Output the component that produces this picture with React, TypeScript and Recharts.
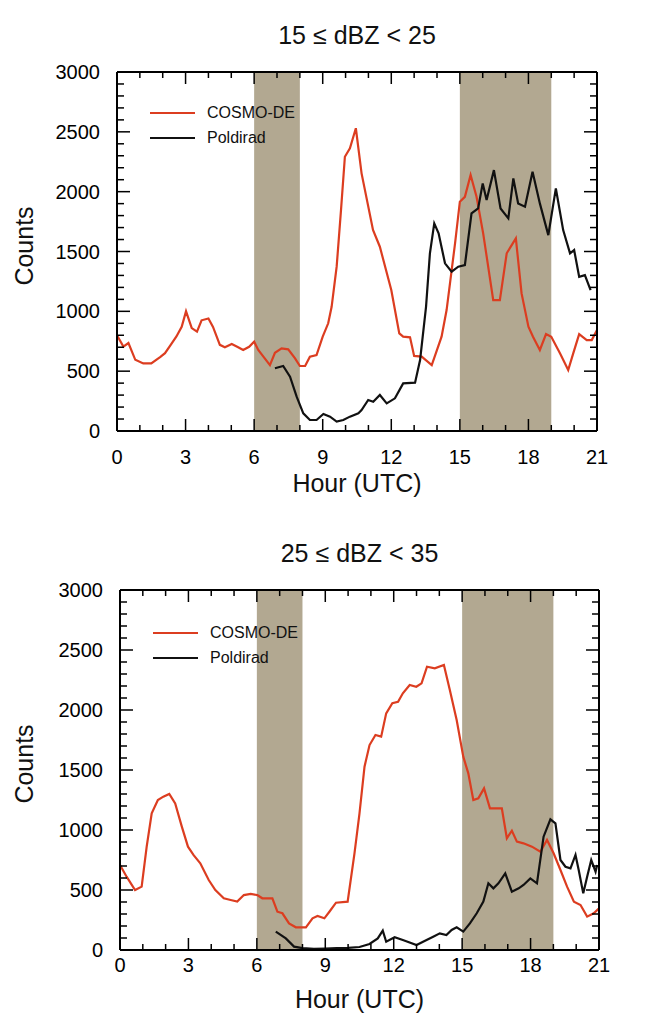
import React from "react";
import {
  LineChart,
  Line,
  XAxis,
  YAxis,
  ReferenceArea,
} from "recharts";

// hour (UTC) / counts
const cosmoLow = [
  { h: 0, v: 800 }, { h: 0.28, v: 705 }, { h: 0.5, v: 735 }, { h: 0.8, v: 595 },
  { h: 1.15, v: 565 }, { h: 1.5, v: 565 }, { h: 1.9, v: 620 }, { h: 2.1, v: 650 },
  { h: 2.35, v: 720 }, { h: 2.6, v: 790 }, { h: 2.83, v: 870 }, { h: 3.02, v: 1000 },
  { h: 3.27, v: 860 }, { h: 3.5, v: 830 }, { h: 3.7, v: 925 }, { h: 4.0, v: 940 },
  { h: 4.2, v: 870 }, { h: 4.5, v: 720 }, { h: 4.72, v: 700 }, { h: 5.02, v: 727 },
  { h: 5.3, v: 700 }, { h: 5.52, v: 677 }, { h: 5.78, v: 704 }, { h: 6.0, v: 746 },
  { h: 6.18, v: 677 }, { h: 6.43, v: 615 }, { h: 6.69, v: 551 }, { h: 6.91, v: 654 },
  { h: 7.2, v: 691 }, { h: 7.49, v: 682 }, { h: 7.79, v: 607 }, { h: 8.0, v: 543 },
  { h: 8.23, v: 543 }, { h: 8.44, v: 621 }, { h: 8.73, v: 635 }, { h: 9.0, v: 788 },
  { h: 9.24, v: 900 }, { h: 9.39, v: 1038 }, { h: 9.61, v: 1373 }, { h: 9.8, v: 1846 },
  { h: 9.97, v: 2292 }, { h: 10.19, v: 2362 }, { h: 10.45, v: 2530 }, { h: 10.7, v: 2153 },
  { h: 11.2, v: 1680 }, { h: 11.5, v: 1540 }, { h: 12.0, v: 1178 }, { h: 12.35, v: 816 },
  { h: 12.52, v: 788 }, { h: 12.82, v: 783 }, { h: 13.0, v: 627 }, { h: 13.33, v: 621 },
  { h: 13.77, v: 551 }, { h: 14.2, v: 788 }, { h: 14.42, v: 1011 }, { h: 14.79, v: 1568 },
  { h: 15.0, v: 1916 }, { h: 15.22, v: 1957 }, { h: 15.47, v: 2140 }, { h: 15.73, v: 1957 },
  { h: 16.02, v: 1652 }, { h: 16.46, v: 1094 }, { h: 16.75, v: 1094 }, { h: 17.05, v: 1485 },
  { h: 17.45, v: 1610 }, { h: 17.7, v: 1150 }, { h: 18.0, v: 871 }, { h: 18.2, v: 788 },
  { h: 18.5, v: 677 }, { h: 18.77, v: 810 }, { h: 19.0, v: 788 }, { h: 19.38, v: 649 },
  { h: 19.74, v: 510 }, { h: 19.96, v: 649 }, { h: 20.22, v: 810 }, { h: 20.55, v: 760 },
  { h: 20.77, v: 760 }, { h: 21.0, v: 844 },
];

const poldiradLow = [
  { h: 6.91, v: 524 }, { h: 7.27, v: 543 }, { h: 7.57, v: 454 }, { h: 7.86, v: 287 },
  { h: 8.15, v: 148 }, { h: 8.44, v: 92 }, { h: 8.73, v: 92 }, { h: 9.03, v: 142 },
  { h: 9.32, v: 120 }, { h: 9.61, v: 78 }, { h: 9.9, v: 92 }, { h: 10.19, v: 120 },
  { h: 10.56, v: 148 }, { h: 10.7, v: 175 }, { h: 10.99, v: 259 }, { h: 11.21, v: 245 },
  { h: 11.5, v: 301 }, { h: 11.8, v: 231 }, { h: 12.16, v: 273 }, { h: 12.52, v: 398 },
  { h: 13.04, v: 404 }, { h: 13.26, v: 593 }, { h: 13.52, v: 1038 }, { h: 13.69, v: 1485 },
  { h: 13.88, v: 1735 }, { h: 14.07, v: 1652 }, { h: 14.35, v: 1401 }, { h: 14.64, v: 1331 },
  { h: 14.93, v: 1373 }, { h: 15.22, v: 1387 }, { h: 15.51, v: 1818 }, { h: 15.8, v: 1860 },
  { h: 16.0, v: 2069 }, { h: 16.17, v: 1930 }, { h: 16.49, v: 2180 }, { h: 16.78, v: 1860 },
  { h: 17.12, v: 1777 }, { h: 17.34, v: 2111 }, { h: 17.55, v: 1902 }, { h: 17.85, v: 1874 },
  { h: 18.18, v: 2166 }, { h: 18.5, v: 1902 }, { h: 18.87, v: 1637 }, { h: 19.2, v: 2027 },
  { h: 19.52, v: 1679 }, { h: 19.82, v: 1485 }, { h: 20.0, v: 1512 }, { h: 20.22, v: 1289 },
  { h: 20.47, v: 1303 }, { h: 20.72, v: 1178 },
];

const cosmoHigh = [
  { h: 0, v: 708 }, { h: 0.29, v: 611 }, { h: 0.66, v: 500 }, { h: 0.95, v: 528 },
  { h: 1.17, v: 861 }, { h: 1.39, v: 1139 }, { h: 1.66, v: 1250 }, { h: 1.9, v: 1278 },
  { h: 2.16, v: 1300 }, { h: 2.42, v: 1222 }, { h: 2.71, v: 1028 }, { h: 2.98, v: 861 },
  { h: 3.22, v: 792 }, { h: 3.52, v: 722 }, { h: 3.89, v: 583 }, { h: 4.18, v: 500 },
  { h: 4.55, v: 431 }, { h: 4.85, v: 417 }, { h: 5.14, v: 403 }, { h: 5.43, v: 458 },
  { h: 5.73, v: 467 }, { h: 6.02, v: 458 }, { h: 6.24, v: 431 }, { h: 6.68, v: 431 },
  { h: 6.9, v: 319 }, { h: 7.12, v: 306 }, { h: 7.41, v: 222 }, { h: 7.71, v: 189 },
  { h: 8.15, v: 189 }, { h: 8.44, v: 264 }, { h: 8.66, v: 283 }, { h: 8.96, v: 264 },
  { h: 9.18, v: 319 }, { h: 9.47, v: 394 }, { h: 9.98, v: 403 }, { h: 10.28, v: 806 },
  { h: 10.5, v: 1139 }, { h: 10.72, v: 1528 }, { h: 10.94, v: 1708 }, { h: 11.2, v: 1792 },
  { h: 11.45, v: 1778 }, { h: 11.67, v: 1972 }, { h: 11.94, v: 2056 }, { h: 12.19, v: 2069 },
  { h: 12.4, v: 2139 }, { h: 12.7, v: 2208 }, { h: 12.99, v: 2194 }, { h: 13.22, v: 2222 },
  { h: 13.46, v: 2361 }, { h: 13.8, v: 2347 }, { h: 14.2, v: 2375 }, { h: 14.46, v: 2167 },
  { h: 14.76, v: 1917 }, { h: 15.05, v: 1611 }, { h: 15.27, v: 1472 }, { h: 15.49, v: 1250 },
  { h: 15.71, v: 1264 }, { h: 15.96, v: 1347 }, { h: 16.22, v: 1181 }, { h: 16.74, v: 1181 },
  { h: 16.96, v: 931 }, { h: 17.18, v: 994 }, { h: 17.4, v: 903 }, { h: 17.69, v: 889 },
  { h: 18.06, v: 861 }, { h: 18.43, v: 819 }, { h: 18.72, v: 917 }, { h: 19.01, v: 806 },
  { h: 19.31, v: 667 }, { h: 19.6, v: 528 }, { h: 19.9, v: 403 }, { h: 20.19, v: 375 },
  { h: 20.48, v: 278 }, { h: 20.77, v: 306 }, { h: 21, v: 347 },
];

const poldiradHigh = [
  { h: 6.83, v: 153 }, { h: 7.27, v: 97 }, { h: 7.63, v: 28 }, { h: 8.0, v: 15 },
  { h: 8.5, v: 10 }, { h: 9.0, v: 12 }, { h: 9.5, v: 15 }, { h: 10.0, v: 18 },
  { h: 10.5, v: 25 }, { h: 10.94, v: 50 }, { h: 11.3, v: 97 }, { h: 11.52, v: 161 },
  { h: 11.67, v: 69 }, { h: 12.04, v: 106 }, { h: 12.4, v: 83 }, { h: 13.0, v: 42 },
  { h: 13.44, v: 83 }, { h: 13.73, v: 111 }, { h: 14.02, v: 139 }, { h: 14.31, v: 125 },
  { h: 14.54, v: 167 }, { h: 14.76, v: 189 }, { h: 15.05, v: 153 }, { h: 15.34, v: 222 },
  { h: 15.64, v: 306 }, { h: 15.93, v: 403 }, { h: 16.15, v: 556 }, { h: 16.37, v: 514 },
  { h: 16.59, v: 556 }, { h: 16.89, v: 639 }, { h: 17.18, v: 486 }, { h: 17.48, v: 514 },
  { h: 17.69, v: 542 }, { h: 17.99, v: 597 }, { h: 18.28, v: 556 }, { h: 18.57, v: 944 },
  { h: 18.87, v: 1089 }, { h: 19.09, v: 1056 }, { h: 19.31, v: 750 }, { h: 19.53, v: 694 },
  { h: 19.75, v: 681 }, { h: 19.97, v: 792 }, { h: 20.11, v: 667 }, { h: 20.31, v: 472 },
  { h: 20.48, v: 611 }, { h: 20.66, v: 750 }, { h: 20.85, v: 653 }, { h: 20.92, v: 708 },
];

// shaded periods (hours)
const bands = [
  [6, 8],
  [15, 19],
];

const hourTicks = Array.from({ length: 22 }, (_, i) => i);
const countTicks = Array.from({ length: 31 }, (_, i) => i * 100);

const RED = "#dc3d20";
const BLACK = "#111";
const BAND = "#b2a891";
const FONT = '"Liberation Sans", Arial, Helvetica, sans-serif';

// bottom tick: inward mark at the bottom and the matching one at the top of the frame
const HourTick = (p: any) => {
  const v = p.payload.value;
  const len = v % 3 === 0 ? 12 : 6;
  const topY = p.y - p.plotH;
  return (
    <g>
      <line x1={p.x} y1={p.y} x2={p.x} y2={p.y - len} stroke="#000" strokeWidth={1.5} />
      <line x1={p.x} y1={topY} x2={p.x} y2={topY + len} stroke="#000" strokeWidth={1.5} />
      {v % 3 === 0 && (
        <text x={p.x} y={p.y + p.labelDy} textAnchor="middle" fontSize={20} fontFamily={FONT} fill="#000">
          {v}
        </text>
      )}
    </g>
  );
};

// left tick: inward mark on the left and the matching one on the right of the frame
const CountTick = (p: any) => {
  const v = p.payload.value;
  const len = v % 500 === 0 ? 13 : 7;
  const rightX = p.x + p.plotW;
  return (
    <g>
      <line x1={p.x} y1={p.y} x2={p.x + len} y2={p.y} stroke="#000" strokeWidth={1.5} />
      <line x1={rightX} y1={p.y} x2={rightX - len} y2={p.y} stroke="#000" strokeWidth={1.5} />
      {v % 500 === 0 && (
        <text x={p.x - 17} y={p.y + 7} textAnchor="end" fontSize={20} fontFamily={FONT} fill="#000">
          {v}
        </text>
      )}
    </g>
  );
};

interface PanelProps {
  title: string;
  cosmo: { h: number; v: number }[];
  poldirad: { h: number; v: number }[];
  height: number;
  left: number;
  top: number;
  right: number;
  bottom: number;
  titleY: number;
  labelDy: number;
  hourY: number;
  legendY: number;
}

const centered = (x: number, y: number, size: number, extra: React.CSSProperties = {}) =>
  ({
    position: "absolute",
    left: x,
    top: y,
    transform: "translate(-50%, -50%)",
    fontFamily: FONT,
    fontSize: size,
    lineHeight: 1,
    whiteSpace: "nowrap",
    color: "#111",
    ...extra,
  }) as React.CSSProperties;

const frame = { stroke: "#000", strokeWidth: 2 };

const Panel = (props: PanelProps) => {
  const { left, top, right, bottom, height } = props;
  const cx = (left + right) / 2;
  const plotW = right - left;
  const plotH = bottom - top;
  return (
    <div style={{ position: "relative", width: 651, height }}>
      <LineChart
        width={651}
        height={height}
        margin={{ left: left - 60, right: 651 - right - 1, top: top - 1, bottom: height - bottom - 30 }}
      >
        <XAxis
          dataKey="h"
          type="number"
          domain={[0, 21]}
          ticks={hourTicks}
          interval={0}
          height={30}
          tickSize={0}
          tickMargin={0}
          tickLine={false}
          axisLine={frame}
          tick={(p: any) => <HourTick {...p} labelDy={props.labelDy} plotH={plotH} />}
        />
        <YAxis
          type="number"
          domain={[0, 3000]}
          ticks={countTicks}
          interval={0}
          width={60}
          tickSize={0}
          tickMargin={0}
          tickLine={false}
          axisLine={frame}
          tick={(p: any) => <CountTick {...p} plotW={plotW} />}
        />
        <XAxis xAxisId="top" orientation="top" type="number" domain={[0, 21]} height={1}
          tick={false} tickLine={false} axisLine={frame} />
        <YAxis yAxisId="right" orientation="right" type="number" domain={[0, 3000]} width={1}
          tick={false} tickLine={false} axisLine={frame} />
        {bands.map(([a, b]) => (
          <ReferenceArea key={a} x1={a} x2={b} y1={0} y2={3000} fill={BAND} fillOpacity={1} stroke="none" />
        ))}
        <Line
          data={props.cosmo}
          dataKey="v"
          type="linear"
          stroke={RED}
          strokeWidth={2.2}
          dot={false}
          isAnimationActive={false}
        />
        <Line
          data={props.poldirad}
          dataKey="v"
          type="linear"
          stroke={BLACK}
          strokeWidth={2.2}
          dot={false}
          isAnimationActive={false}
        />
      </LineChart>
      <div style={centered(cx, props.titleY, 25)}>{props.title}</div>
      <div style={centered(cx, props.hourY, 25)}>Hour (UTC)</div>
      <div style={centered(24, (top + bottom) / 2 - 6, 25, { transform: "translate(-50%, -50%) rotate(-90deg)" })}>
        Counts
      </div>
      {[
        { name: "COSMO-DE", color: RED, dy: 0 },
        { name: "Poldirad", color: BLACK, dy: 25 },
      ].map((it) => (
        <div
          key={it.name}
          style={{ position: "absolute", left: left + 33, top: props.legendY + it.dy - 9, height: 18, display: "flex", alignItems: "center" }}
        >
          <div style={{ width: 45, height: 2, background: it.color }} />
          <span style={{ marginLeft: 12, fontFamily: FONT, fontSize: 16, color: "#111" }}>{it.name}</span>
        </div>
      ))}
    </div>
  );
};

export default function App() {
  return (
    <div style={{ position: "relative", left: -8, top: -8, width: 651 }}>
      <Panel
        title="15 ≤ dBZ < 25"
        cosmo={cosmoLow}
        poldirad={poldiradLow}
        height={515}
        left={117}
        top={72}
        right={597}
        bottom={431}
        titleY={35}
        labelDy={33}
        hourY={483}
        legendY={113}
      />
      <Panel
        title="25 ≤ dBZ < 35"
        cosmo={cosmoHigh}
        poldirad={poldiradHigh}
        height={508}
        left={120}
        top={75}
        right={599}
        bottom={435}
        titleY={38}
        labelDy={22}
        hourY={484}
        legendY={118}
      />
    </div>
  );
}
